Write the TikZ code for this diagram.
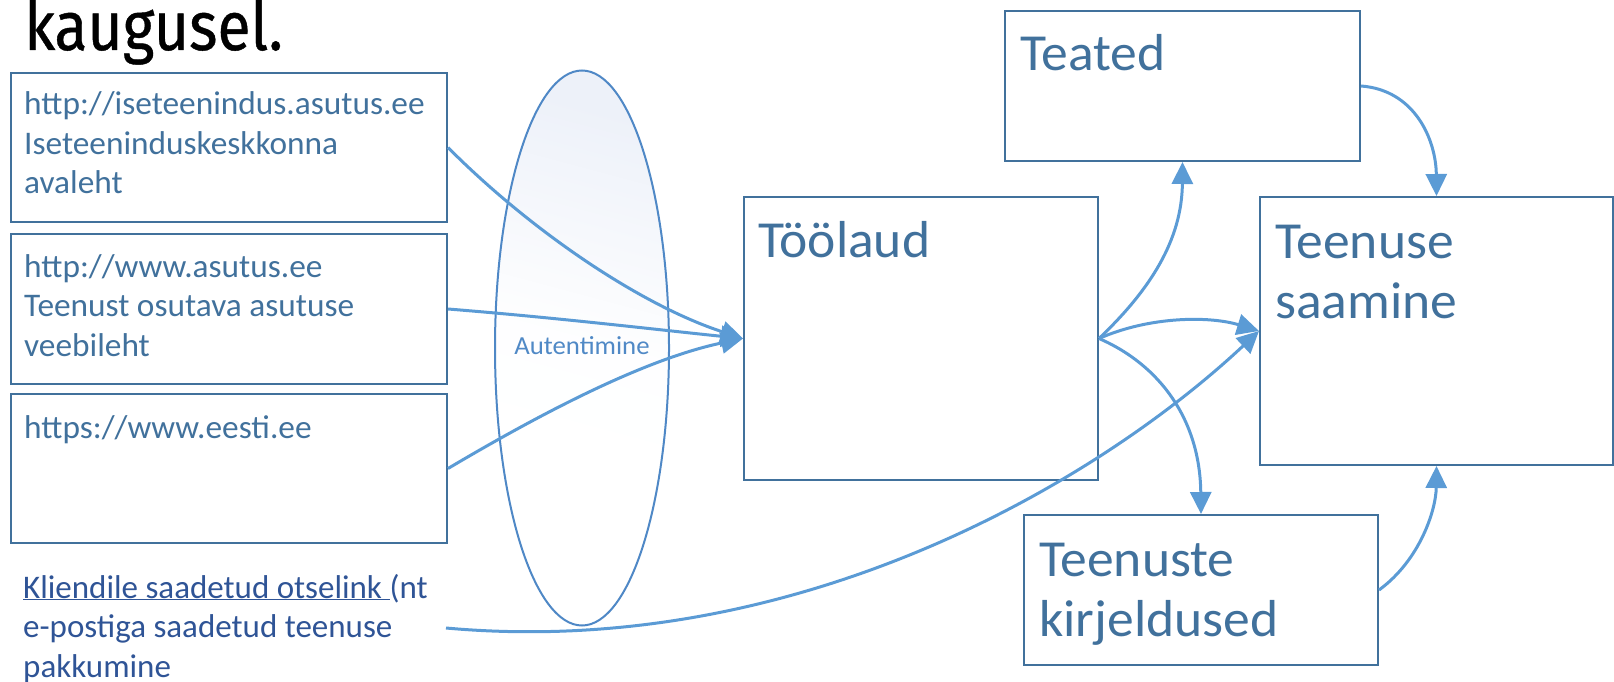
\documentclass[tikz,border=0pt]{standalone}
\usepackage{fontspec}
\usetikzlibrary{arrows.meta,calc,shapes.geometric}
\newfontfamily\carl{Carlito}
\newfontfamily\fira[FakeBold=0.6]{Fira Sans}
\definecolor{boxline}{HTML}{41719C}
\definecolor{boxtext}{HTML}{41719C}
\definecolor{link}{HTML}{5B9BD5}
\definecolor{ovalline}{HTML}{4F88C6}
\definecolor{ovaltext}{HTML}{5089C6}
\definecolor{navy}{HTML}{2F5496}
\definecolor{ovaltop}{HTML}{EDF1F9}
% stacked lines whose reference point is the first baseline
\newcommand\stack[1]{\vtop{\halign{##\hfil\cr#1\crcr}}}
\tikzset{
  box/.style={draw=boxline, line width=2pt, rectangle, inner sep=0pt, anchor=north west},
  smalltxt/.style={anchor=base west, inner sep=0pt, text=boxtext, xscale=1.01,
    font={\carl\fontsize{33}{39.5}\selectfont}},
  bigtxt/.style={anchor=base west, inner sep=0pt, text=boxtext, xscale=1.03,
    font={\carl\fontsize{52}{60}\selectfont}},
  conn/.style={draw=link, line width=3pt, -{Triangle[length=22pt,width=21pt]}},
}
\begin{document}
\begin{tikzpicture}[x=1pt,y=-1pt]
\useasboundingbox (0,0) rectangle (1614,682);

% heading fragment
\node[anchor=base west, inner sep=0pt, xscale=0.88, font={\fira\fontsize{69}{76}\selectfont}] (head) at (24,50) {kaugusel.};

% entry points
\node[box, minimum width=436pt, minimum height=149pt] (b1) at (10,72) {};
\node[box, minimum width=436pt, minimum height=150pt] (b2) at (10,233) {};
\node[box, minimum width=436pt, minimum height=149pt] (b3) at (10,393) {};
\node[smalltxt] (t1) at ($(b1.north west)+(14,43)$) {\stack{http://iseteenindus.asutus.ee\cr Iseteeninduskeskkonna\cr avaleht}};
\node[smalltxt] (t2) at ($(b2.north west)+(14,44)$) {\stack{http://www.asutus.ee\cr Teenust osutava asutuse\cr veebileht}};
\node[smalltxt] (t3) at ($(b3.north west)+(14,45)$) {https://www.eesti.ee};

\node[smalltxt, text=navy, xscale=0.99] (direct) at (23,598) {\stack{\underline{Kliendile saadetud otselink }(nt\cr e-postiga saadetud teenuse\cr pakkumine}};
\coordinate (dsrc) at (446,628);

% authentication oval
\node[ellipse, draw=ovalline, line width=2pt, minimum width=174pt, minimum height=555pt,
  inner sep=0pt, top color=ovaltop, bottom color=white, middle color=white!96!ovaltop,
  shading angle=-15] (auth) at (582,348) {};
\node[inner sep=0pt, anchor=base, text=ovaltext, xscale=1.03, font={\carl\fontsize{26}{30}\selectfont}] (authlbl) at (582,354) {Autentimine};

% main boxes
\node[box, minimum width=354pt, minimum height=283pt] (tool) at (743,196) {};
\node[box, minimum width=355pt, minimum height=150pt] (teated) at (1004,10) {};
\node[box, minimum width=353pt, minimum height=268pt] (saam) at (1259,196) {};
\node[box, minimum width=354pt, minimum height=150pt] (kirj) at (1023,514) {};
\node[bigtxt] (tooltxt) at ($(tool.north west)+(15,61)$) {Töölaud};
\node[bigtxt] (teatedtxt) at ($(teated.north west)+(16,61)$) {Teated};
\node[bigtxt] (saamtxt) at ($(saam.north west)+(16,62)$) {\stack{Teenuse\cr saamine}};
\node[bigtxt] (kirjtxt) at ($(kirj.north west)+(16,62)$) {\stack{Teenuste\cr kirjeldused}};

% connectors
\draw[conn] (b1.east) .. controls (530,230) and (640,305) .. (tool.west);
\draw[conn] (b2.east) .. controls (560,318) and (660,330) .. (tool.west);
\draw[conn] (b3.east) .. controls (530,420) and (640,360) .. (tool.west);
\draw[conn] (dsrc) .. controls (800,660) and (1100,480) .. (saam.west);
\draw[conn] (tool.east) .. controls (1150,290) and (1182,240) .. (teated.south);
\draw[conn] (tool.east) .. controls (1150,316) and (1210,316) .. (saam.west);
\draw[conn] (tool.east) .. controls (1160,365) and (1200,420) .. (kirj.north);
\draw[conn] (teated.east) .. controls (1415,90) and (1436,140) .. (saam.north);
\draw[conn] (kirj.east) .. controls (1420,560) and (1436,510) .. (saam.south);
\end{tikzpicture}
\end{document}
